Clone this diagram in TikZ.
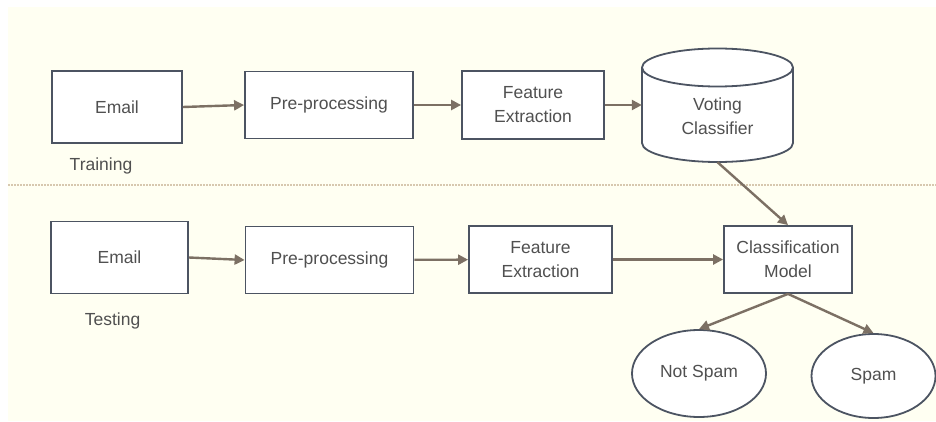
\documentclass[tikz,border=0pt]{standalone}
\usepackage{fontspec}
\setmainfont{Liberation Sans}
\usetikzlibrary{arrows.meta,shapes.geometric}
\definecolor{bgcream}{RGB}{255,255,242}
\definecolor{boxline}{RGB}{76,84,98}
\definecolor{arrowc}{RGB}{124,112,100}
\definecolor{txtc}{RGB}{80,80,80}
\definecolor{dotc}{RGB}{215,200,175}
\begin{document}
\begin{tikzpicture}[x=1pt,y=-1pt,
  every node/.style={font=\fontsize{17.5}{24}\selectfont, text=txtc, inner sep=0pt},
  stepbox/.style={draw=boxline, line width=1.8pt, fill=white, align=center},
  oval/.style={ellipse, draw=boxline, line width=1.8pt, fill=white},
  flow/.style={draw=arrowc, line width=2.4pt, -{Triangle[length=10pt,width=10pt]}, shorten >=0pt},
  lbl/.style={text=txtc}
]
\useasboundingbox (0,0) rectangle (936,422);
\fill[white] (0,0) rectangle (936,422);
\fill[bgcream] (8,7) rectangle (936,421);

% separator
\coordinate (sepL) at (8,185);
\coordinate (sepR) at (936,185);
\draw[dotc, line width=1.2pt, dash pattern=on 1.5pt off 1.5pt] (sepL) -- (sepR);

% training row
\node[stepbox, minimum width=130, minimum height=72] (emT) at (117,107) {Email};
\node[stepbox, minimum width=168, minimum height=67] (ppT) at (329,105) {Pre-processing};
\node[stepbox, minimum width=142, minimum height=68] (feT) at (533,105) {Feature\\Extraction};
\node[minimum width=151, minimum height=114] (vc) at (717.5,105) {};
\path[draw=boxline, line width=1.8pt, fill=white]
  (642,67.5) -- (642,143) arc[start angle=180, end angle=360, x radius=75.5, y radius=-19]
  -- (793,67.5) arc[start angle=0, end angle=180, x radius=75.5, y radius=-19] -- cycle;
\draw[boxline, line width=1.8pt] (642,67.5) arc[start angle=180, end angle=360, x radius=75.5, y radius=-19];
\node[align=center] (vctext) at (717.5,116) {Voting\\Classifier};
\node[lbl] (train) at (101,166) {Training};

% testing row
\node[stepbox, minimum width=137, minimum height=72] (emS) at (119.5,257.5) {Email};
\node[stepbox, minimum width=168, minimum height=67] (ppS) at (329.5,260) {Pre-processing};
\node[stepbox, minimum width=143, minimum height=67] (feS) at (540.5,259.5) {Feature\\Extraction};
\node[stepbox, minimum width=128, minimum height=67] (cm) at (788,259.5) {Classification\\Model};
\node[lbl] (test) at (112.5,321) {Testing};

\node[oval, minimum width=134, minimum height=87] (ns) at (699,373.5) {Not Spam};
\node[oval, minimum width=124, minimum height=84] (sp) at (873.5,376) {Spam};

% arrows
\draw[flow] (emT.east) -- (ppT.west);
\draw[flow] (ppT) -- (feT);
\draw[flow] (feT) -- (vc.west);
\draw[flow] (vc.south) -- (cm.north);
\draw[flow] (emS.east) -- (ppS.west);
\draw[flow] (ppS) -- (feS);
\draw[flow] (feS.east) -- (cm.west);
\draw[flow] (cm.south) -- (ns.north);
\draw[flow] (cm.south) -- (sp.north);
\end{tikzpicture}
\end{document}
